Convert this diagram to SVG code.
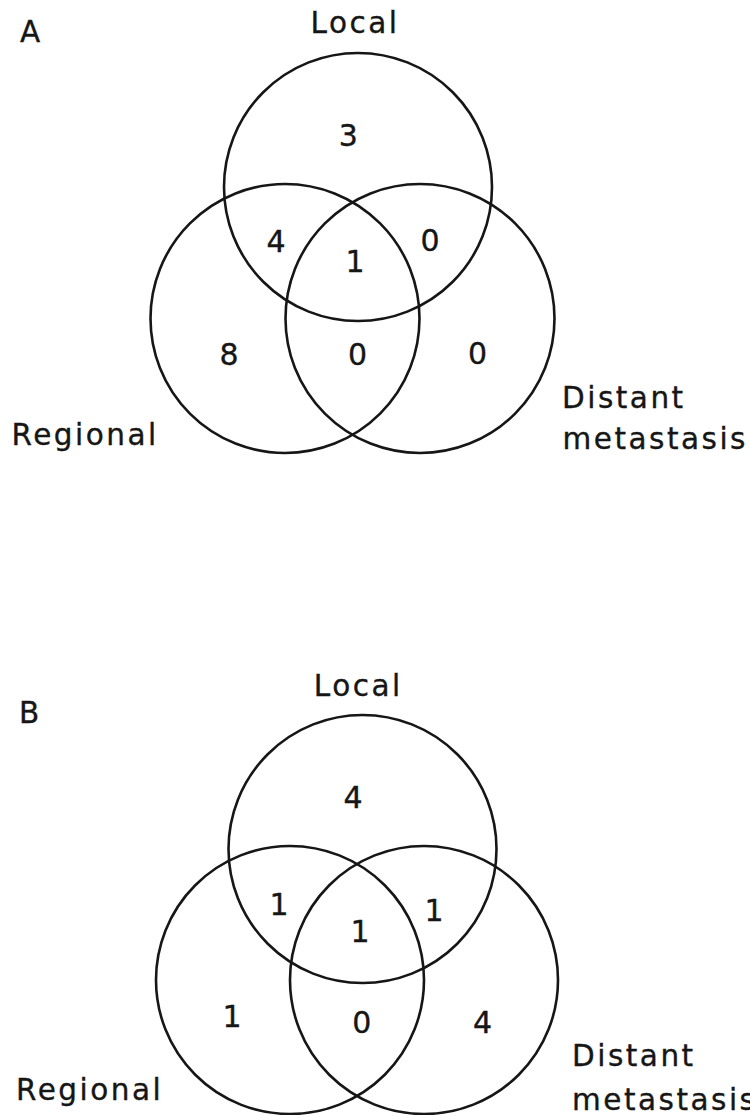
<svg xmlns="http://www.w3.org/2000/svg" width="750" height="1115" viewBox="0 0 750 1115">
  <style>
    .set { fill: none; stroke: #161616; stroke-width: 2.6; }
    .lbl { font-family: "DejaVu Sans", "Liberation Sans", sans-serif; font-size: 29.5px; fill: #161616; stroke: #161616; stroke-width: 0.35; letter-spacing: 2.5px; }
    .num { font-family: "DejaVu Sans", "Liberation Sans", sans-serif; font-size: 30px; fill: #161616; stroke: #161616; stroke-width: 0.35; text-anchor: middle; }
  </style>
  <rect width="750" height="1115" fill="#ffffff"/>

  <!-- Panel A -->
  <g id="panel-a">
    <text class="lbl" x="20" y="41.7" letter-spacing="0">A</text>
    <g id="a-local">
      <circle class="set" cx="358" cy="187" r="134"/>
      <text class="lbl" x="310.5" y="33.3">Local</text>
    </g>
    <g id="a-regional">
      <circle class="set" cx="285" cy="318.5" r="134.5"/>
      <text class="lbl" x="11.5" y="445">Regional</text>
    </g>
    <g id="a-distant">
      <circle class="set" cx="420" cy="318.5" r="134.5"/>
      <text class="lbl" x="562" y="408">Distant</text>
      <text class="lbl" x="562.5" y="448.5">metastasis</text>
    </g>
    <g id="a-counts">
      <text class="num" x="348.3" y="145.7">3</text>
      <text class="num" x="276" y="251.7">4</text>
      <text class="num" x="355" y="271.7">1</text>
      <text class="num" x="430" y="251">0</text>
      <text class="num" x="229" y="365">8</text>
      <text class="num" x="357.5" y="365">0</text>
      <text class="num" x="477.5" y="364.3">0</text>
    </g>
  </g>

  <!-- Panel B -->
  <g id="panel-b">
    <text class="lbl" x="19" y="722.7" letter-spacing="0">B</text>
    <g id="b-local">
      <circle class="set" cx="362.5" cy="849" r="134"/>
      <text class="lbl" x="313.8" y="696">Local</text>
    </g>
    <g id="b-regional">
      <circle class="set" cx="290" cy="980" r="134"/>
      <text class="lbl" x="16" y="1100">Regional</text>
    </g>
    <g id="b-distant">
      <circle class="set" cx="424" cy="980" r="134"/>
      <text class="lbl" x="572" y="1066">Distant</text>
      <text class="lbl" x="572" y="1110">metastasis</text>
    </g>
    <g id="b-counts">
      <text class="num" x="353" y="808">4</text>
      <text class="num" x="279" y="915">1</text>
      <text class="num" x="360" y="942">1</text>
      <text class="num" x="434" y="921">1</text>
      <text class="num" x="232" y="1027">1</text>
      <text class="num" x="361.7" y="1033">0</text>
      <text class="num" x="482.5" y="1033">4</text>
    </g>
  </g>
</svg>
